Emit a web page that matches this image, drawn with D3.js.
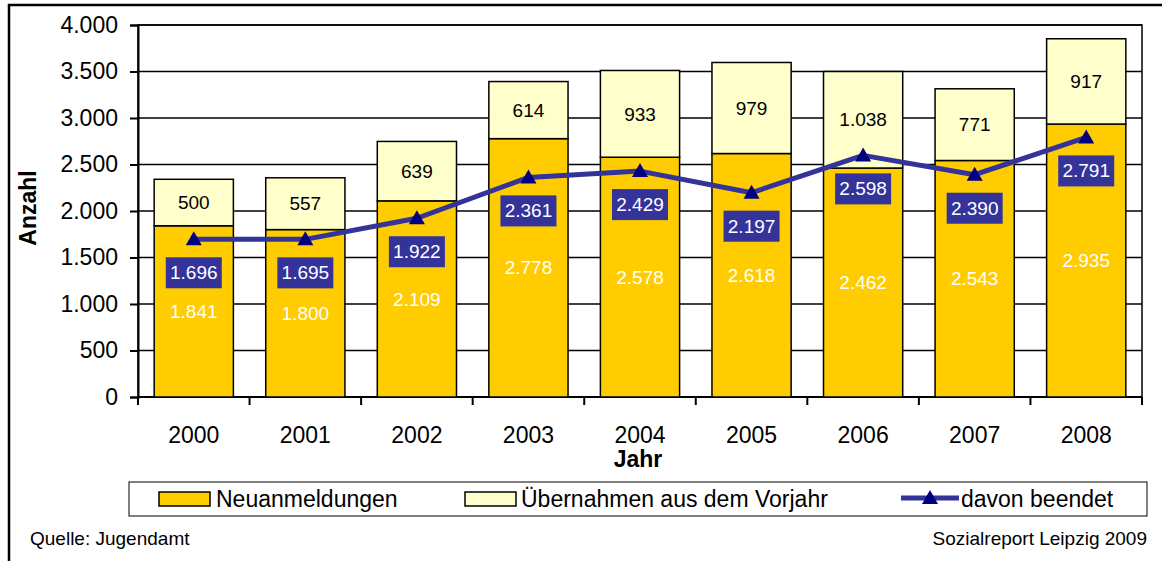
<!DOCTYPE html>
<html>
<head>
<meta charset="utf-8">
<script src="https://cdn.jsdelivr.net/npm/d3@7"></script>
<style>
  body { margin: 0; background: #fff; }
  text { font-family: "Liberation Sans", Arial, sans-serif; }
</style>
</head>
<body>
<div id="chart"></div>
<script>
// chart data
const years = ["2000", "2001", "2002", "2003", "2004", "2005", "2006", "2007", "2008"];
const neuanmeldungen = [1841, 1800, 2109, 2778, 2578, 2618, 2462, 2543, 2935];
const uebernahmen = [500, 557, 639, 614, 933, 979, 1038, 771, 917];
const beendet = [1696, 1695, 1922, 2361, 2429, 2197, 2598, 2390, 2791];
const yTicks = [0, 500, 1000, 1500, 2000, 2500, 3000, 3500, 4000];

const W = 1162, H = 561;
const margin = {top: 25, right: 20, bottom: 164, left: 138};
const width = W - margin.left - margin.right;
const height = H - margin.top - margin.bottom;

const fmt = v => d3.format(",")(v).replace(/,/g, ".");

const svg = d3.select("#chart").append("svg")
    .attr("width", W)
    .attr("height", H);

// outer frame (right and bottom edge fall outside the picture)
svg.append("path")
    .attr("d", "M9,561 L9,5 L1162,5")
    .attr("fill", "none")
    .attr("stroke", "#000")
    .attr("stroke-width", 2.5);

const g = svg.append("g")
    .attr("transform", `translate(${margin.left},${margin.top})`);

const x = d3.scaleBand().domain(years).range([0, width]).paddingInner(0.29).paddingOuter(0.145);
const y = d3.scaleLinear().domain([0, 4000]).range([height, 0]);

// grid lines
g.append("g").selectAll("line")
    .data(yTicks)
    .join("line")
    .attr("x1", 0).attr("x2", width)
    .attr("y1", d => y(d)).attr("y2", d => y(d))
    .attr("stroke", "#000").attr("stroke-width", 1.5);

// plot border
g.append("rect")
    .attr("width", width).attr("height", height)
    .attr("fill", "none").attr("stroke", "#000").attr("stroke-width", 1.5);

// y axis
const yAxis = g.append("g")
    .call(d3.axisLeft(y).tickValues(yTicks).tickSize(8).tickPadding(12).tickFormat(fmt));
yAxis.select(".domain").attr("stroke-width", 2);
yAxis.selectAll(".tick line").attr("stroke-width", 2);
yAxis.selectAll("text").attr("font-size", 23).attr("fill", "#000")
    .style("font-family", "'Liberation Sans', Arial, sans-serif");

// x axis with ticks at category boundaries
const xAxisG = g.append("g").attr("transform", `translate(0,${height})`);
xAxisG.append("line").attr("x1", 0).attr("x2", width)
    .attr("stroke", "#000").attr("stroke-width", 2);
const step = x.step();
xAxisG.selectAll(".bt")
    .data(d3.range(years.length + 1))
    .join("line")
    .attr("class", "bt")
    .attr("x1", i => i * step).attr("x2", i => i * step)
    .attr("y1", 0).attr("y2", 8)
    .attr("stroke", "#000").attr("stroke-width", 2);
xAxisG.selectAll(".yl")
    .data(years)
    .join("text")
    .attr("class", "yl")
    .attr("x", d => x(d) + x.bandwidth() / 2)
    .attr("y", 46)
    .attr("text-anchor", "middle")
    .attr("font-size", 23)
    .text(d => d);

// stacked bars
const bars = g.append("g").selectAll("g")
    .data(years)
    .join("g");

bars.append("rect")
    .attr("x", d => x(d))
    .attr("width", x.bandwidth())
    .attr("y", (d, i) => y(neuanmeldungen[i]))
    .attr("height", (d, i) => y(0) - y(neuanmeldungen[i]))
    .attr("fill", "#FFCC00").attr("stroke", "#000").attr("stroke-width", 1.5);

bars.append("rect")
    .attr("x", d => x(d))
    .attr("width", x.bandwidth())
    .attr("y", (d, i) => y(neuanmeldungen[i] + uebernahmen[i]))
    .attr("height", (d, i) => y(neuanmeldungen[i]) - y(neuanmeldungen[i] + uebernahmen[i]))
    .attr("fill", "#FFFFCC").attr("stroke", "#000").attr("stroke-width", 1.5);

bars.append("text")
    .attr("x", d => x(d) + x.bandwidth() / 2)
    .attr("y", (d, i) => y(neuanmeldungen[i] / 2))
    .attr("dy", "0.35em")
    .attr("text-anchor", "middle")
    .attr("font-size", 19).attr("fill", "#fff")
    .text((d, i) => fmt(neuanmeldungen[i]));

bars.append("text")
    .attr("x", d => x(d) + x.bandwidth() / 2)
    .attr("y", (d, i) => y(neuanmeldungen[i] + uebernahmen[i] / 2))
    .attr("dy", "0.35em")
    .attr("text-anchor", "middle")
    .attr("font-size", 19).attr("fill", "#000")
    .text((d, i) => fmt(uebernahmen[i]));

// line "davon beendet"
const cx = d => x(d) + x.bandwidth() / 2;
const line = d3.line().x((d, i) => cx(years[i])).y(d => y(d));
g.append("path")
    .datum(beendet)
    .attr("d", line)
    .attr("fill", "none")
    .attr("stroke", "#333399")
    .attr("stroke-width", 5)
    .attr("stroke-linejoin", "round");

const tri = "M0,-8 L8,6 L-8,6 Z";
g.append("g").selectAll("path")
    .data(beendet)
    .join("path")
    .attr("d", tri)
    .attr("transform", (d, i) => `translate(${cx(years[i])},${y(d)})`)
    .attr("fill", "#000080");

const lbl = g.append("g").selectAll("g")
    .data(beendet)
    .join("g")
    .attr("transform", (d, i) => `translate(${cx(years[i])},${y(d) + 33})`);
lbl.append("rect")
    .attr("x", -28).attr("y", -15).attr("width", 56).attr("height", 31)
    .attr("fill", "#333399");
lbl.append("text")
    .attr("text-anchor", "middle").attr("dy", "0.36em")
    .attr("font-size", 19).attr("fill", "#fff")
    .text(d => fmt(d));

// axis titles
svg.append("text")
    .attr("transform", "translate(36,208) rotate(-90)")
    .attr("text-anchor", "middle")
    .attr("font-size", 23).attr("font-weight", "bold")
    .text("Anzahl");
svg.append("text")
    .attr("x", margin.left + width / 2 - 2).attr("y", 467)
    .attr("text-anchor", "middle")
    .attr("font-size", 23).attr("font-weight", "bold")
    .text("Jahr");

// legend
const leg = svg.append("g");
leg.append("rect")
    .attr("x", 129).attr("y", 482).attr("width", 1018).attr("height", 34)
    .attr("fill", "#fff").attr("stroke", "#000").attr("stroke-width", 1);
leg.append("rect")
    .attr("x", 159).attr("y", 492).attr("width", 51).attr("height", 14)
    .attr("fill", "#FFCC00").attr("stroke", "#000").attr("stroke-width", 1.5);
leg.append("text").attr("x", 216).attr("y", 507).attr("font-size", 23).text("Neuanmeldungen");
leg.append("rect")
    .attr("x", 465).attr("y", 492).attr("width", 51).attr("height", 14)
    .attr("fill", "#FFFFCC").attr("stroke", "#000").attr("stroke-width", 1.5);
leg.append("text").attr("x", 521).attr("y", 507).attr("font-size", 23).text("Übernahmen aus dem Vorjahr");
leg.append("line")
    .attr("x1", 901).attr("x2", 959).attr("y1", 498).attr("y2", 498)
    .attr("stroke", "#333399").attr("stroke-width", 5);
leg.append("path").attr("d", tri).attr("transform", "translate(930,498)").attr("fill", "#000080");
leg.append("text").attr("x", 961).attr("y", 507).attr("font-size", 23).text("davon beendet");

// footer
svg.append("text").attr("x", 30).attr("y", 545).attr("font-size", 19).text("Quelle: Jugendamt");
svg.append("text").attr("x", 1147).attr("y", 545).attr("text-anchor", "end")
    .attr("font-size", 19).text("Sozialreport Leipzig 2009");
</script>
</body>
</html>
